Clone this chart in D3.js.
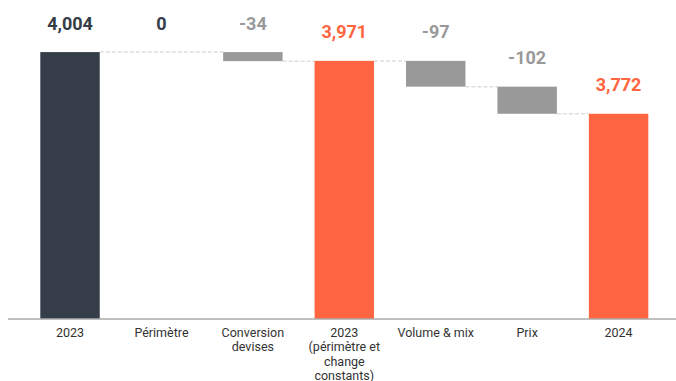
<!DOCTYPE html>
<html>
<head>
<meta charset="utf-8">
<script src="https://cdn.jsdelivr.net/npm/d3@7/dist/d3.min.js"></script>
<style>
  html, body { margin: 0; padding: 0; background: #fff; }
  svg { display: block; font-family: Roboto, "Noto Sans", sans-serif; }
</style>
</head>
<body>
<svg id="chart" width="676" height="381"></svg>
<script>
// Bridge from 2023 to 2024
const categories = ["2023", "Périmètre", "Conversion devises", "2023 (périmètre et change constants)", "Volume & mix", "Prix", "2024"];
const values = [4004, 0, -34, 3971, -97, -102, 3772];
const kinds = ["base", "delta", "delta", "total", "delta", "delta", "total"];
const valueLabels = ["4,004", "0", "-34", "3,971", "-97", "-102", "3,772"];
const yDomain = [3000, 4200];

const W = 676, H = 381;
const svg = d3.select("#chart");

const x = d3.scaleBand()
  .domain(categories)
  .range([24.3, 664.3])
  .paddingInner(0.35)
  .paddingOuter(0.175);

const y = d3.scaleLinear().domain(yDomain).range([319, 0]);

const colors = { base: "#343d48", total: "#ff6540", delta: "#999999" };

// Running levels for the waterfall
let level = 0;
const bars = categories.map((c, i) => {
  let start, end;
  if (kinds[i] === "delta") {
    start = level;
    end = level + values[i];
  } else {
    start = yDomain[0];
    end = values[i];
  }
  level = end;
  return { cat: c, kind: kinds[i], value: values[i], label: valueLabels[i], start, end };
});

// Connectors run between visible bars, passing over zero-height steps
const visible = bars.filter(b => b.start !== b.end);
const links = visible.slice(0, -1).map((b, i) => ({
  x1: x(b.cat) + x.bandwidth(),
  x2: x(visible[i + 1].cat),
  v: b.end
}));
svg.append("g").selectAll("line").data(links).join("line")
  .attr("x1", d => d.x1).attr("x2", d => d.x2)
  .attr("y1", d => y(d.v)).attr("y2", d => y(d.v))
  .attr("stroke", "#dedede").attr("stroke-width", 1.5)
  .attr("stroke-dasharray", "4,2");

// Bars
svg.append("g").selectAll("rect").data(visible).join("rect")
  .attr("x", d => x(d.cat))
  .attr("width", x.bandwidth())
  .attr("y", d => y(Math.max(d.start, d.end)))
  .attr("height", d => Math.abs(y(d.start) - y(d.end)))
  .attr("fill", d => colors[d.kind]);

// Value labels
svg.append("g").selectAll("text").data(bars).join("text")
  .attr("x", d => x(d.cat) + x.bandwidth() / 2)
  .attr("y", d => y(Math.max(d.start, d.end)) - 22.5)
  .attr("text-anchor", "middle")
  .attr("font-size", 18)
  .attr("font-weight", 700)
  .attr("fill", d => d.kind === "delta" ? (d.value === 0 ? colors.base : colors.delta) : colors[d.kind])
  .text(d => d.label);

// Category axis
const axis = svg.append("g").attr("transform", "translate(0,319)")
  .call(d3.axisBottom(x).tickSize(0).tickPadding(0));
axis.select(".domain").remove();
svg.append("line")
  .attr("x1", 8).attr("x2", W).attr("y1", 319).attr("y2", 319)
  .attr("stroke", "#aaaaaa").attr("stroke-width", 1.5);

const lineH = 14.5, firstY = 17.6, maxW = 80;
axis.selectAll(".tick text")
  .attr("font-size", 12.5)
  .attr("font-family", "Roboto, sans-serif")
  .attr("fill", "#333333")
  .attr("y", firstY)
  .attr("dy", 0)
  .each(function (d) {
    const t = d3.select(this);
    const words = d.split(" ");
    t.text(null);
    let line = [];
    let n = 0;
    let tspan = t.append("tspan").attr("x", 0).attr("y", firstY);
    words.forEach(w => {
      line.push(w);
      tspan.text(line.join(" "));
      if (tspan.node().getComputedTextLength() > maxW && line.length > 1) {
        line.pop();
        tspan.text(line.join(" "));
        line = [w];
        n++;
        tspan = t.append("tspan").attr("x", 0).attr("y", firstY + n * lineH).text(w);
      }
    });
  });
</script>
</body>
</html>
